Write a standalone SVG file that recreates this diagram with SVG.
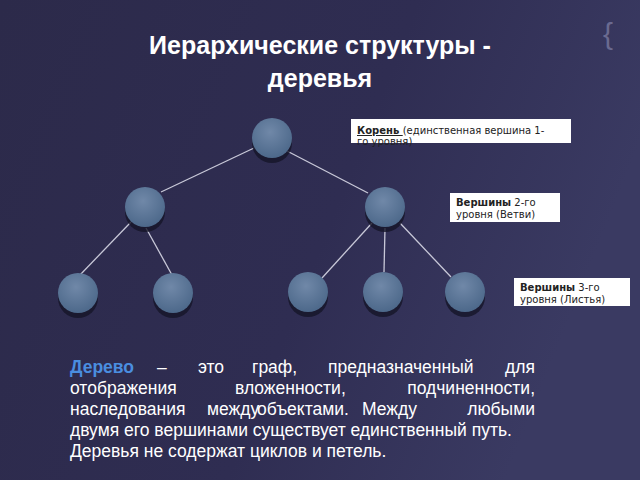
<svg xmlns="http://www.w3.org/2000/svg" width="640" height="480" viewBox="0 0 640 480">
<defs>
<linearGradient id="bg" x1="0" y1="0" x2="1" y2="0.3"><stop offset="0" stop-color="#2c2a4a"/><stop offset="0.6" stop-color="#2f2d52"/><stop offset="1" stop-color="#3a3a62"/></linearGradient>
<radialGradient id="ball" cx="0.45" cy="0.35" r="0.7"><stop offset="0" stop-color="#7088a8"/><stop offset="1" stop-color="#4a6688"/></radialGradient>
<style>
.n{fill:url(#ball)}
.sh{fill:#151528;opacity:0.8}
.e{stroke:#c8c8d8;stroke-width:1.3}
.lb{fill:#fff}
.lt{font-family:"DejaVu Sans",sans-serif;font-size:10px;fill:#222}
.p{font-family:"Liberation Sans",Arial,sans-serif;font-size:17.5px;fill:#fff}
.r{text-anchor:end}
.b{font-weight:bold;fill:#4a8ee0}
</style>
</defs>
<rect width="640" height="480" fill="url(#bg)"/>
<text x="608" y="44" font-family="Liberation Sans,sans-serif" font-size="30" fill="#6a6a90" text-anchor="middle">{</text>
<g font-family="Liberation Sans,sans-serif" font-weight="bold" font-size="25" fill="#fff" text-anchor="middle">
<text x="320" y="54">Иерархические структуры -</text>
<text x="320" y="87">деревья</text>
</g>
<g id="edges">
<line class="e" x1="254" y1="148" x2="161" y2="192"/>
<line class="e" x1="287" y1="151" x2="368" y2="193"/>
<line class="e" x1="131" y1="222" x2="79" y2="276"/>
<line class="e" x1="146" y1="228" x2="172" y2="275"/>
<line class="e" x1="372" y1="223" x2="322" y2="278"/>
<line class="e" x1="385" y1="228" x2="384" y2="272"/>
<line class="e" x1="400" y1="223" x2="451" y2="277"/>
</g>
<g id="n1"><circle class="sh" cx="272" cy="143" r="20"/><circle class="n" cx="272" cy="138" r="20"/></g>
<g id="n2"><circle class="sh" cx="145" cy="212" r="20"/><circle class="n" cx="145" cy="207" r="20"/></g>
<g id="n3"><circle class="sh" cx="385" cy="212" r="20"/><circle class="n" cx="385" cy="207" r="20"/></g>
<g id="n4"><circle class="sh" cx="78" cy="298" r="20"/><circle class="n" cx="78" cy="293" r="20"/></g>
<g id="n5"><circle class="sh" cx="173" cy="298" r="20"/><circle class="n" cx="173" cy="293" r="20"/></g>
<g id="n6"><circle class="sh" cx="308" cy="297" r="20"/><circle class="n" cx="308" cy="292" r="20"/></g>
<g id="n7"><circle class="sh" cx="383" cy="297" r="20"/><circle class="n" cx="383" cy="292" r="20"/></g>
<g id="n8"><circle class="sh" cx="465" cy="297" r="20"/><circle class="n" cx="465" cy="292" r="20"/></g>
<g id="l1"><rect class="lb" x="351" y="119" width="220" height="24"/>
<text class="lt" x="357" y="134"><tspan font-weight="bold" text-decoration="underline">Корень </tspan>(единственная вершина 1-</text>
<text class="lt" x="357" y="145">го уровня)</text></g>
<g id="l2"><rect class="lb" x="450" y="193" width="110" height="29"/>
<text class="lt" x="456" y="206"><tspan font-weight="bold">Вершины</tspan> 2-го</text>
<text class="lt" x="456" y="218">уровня (Ветви)</text></g>
<g id="l3"><rect class="lb" x="514" y="278" width="116" height="28"/>
<text class="lt" x="520" y="291"><tspan font-weight="bold">Вершины</tspan> 3-го</text>
<text class="lt" x="520" y="303">уровня (Листья)</text></g>
<g id="para">
<text class="p b" x="70" y="373">Дерево</text>
<text class="p" x="157" y="373">–</text>
<text class="p" x="198" y="373">это</text>
<text class="p" x="252" y="373">граф,</text>
<text class="p" x="328" y="373">предназначенный</text>
<text class="p r" x="535" y="373">для</text>
<text class="p" x="70" y="394">отображения</text>
<text class="p" x="235" y="394">вложенности,</text>
<text class="p r" x="535" y="394">подчиненности,</text>
<text class="p" x="70" y="415">наследования</text>
<text class="p" x="207" y="415">между</text>
<text class="p" x="257" y="415">объектами.</text>
<text class="p" x="362" y="415">Между</text>
<text class="p r" x="535" y="415">любыми</text>
<text class="p" x="70" y="436">двумя его вершинами существует единственный путь.</text>
<text class="p" x="70" y="457">Деревья не содержат циклов и петель.</text>
</g>
</svg>
